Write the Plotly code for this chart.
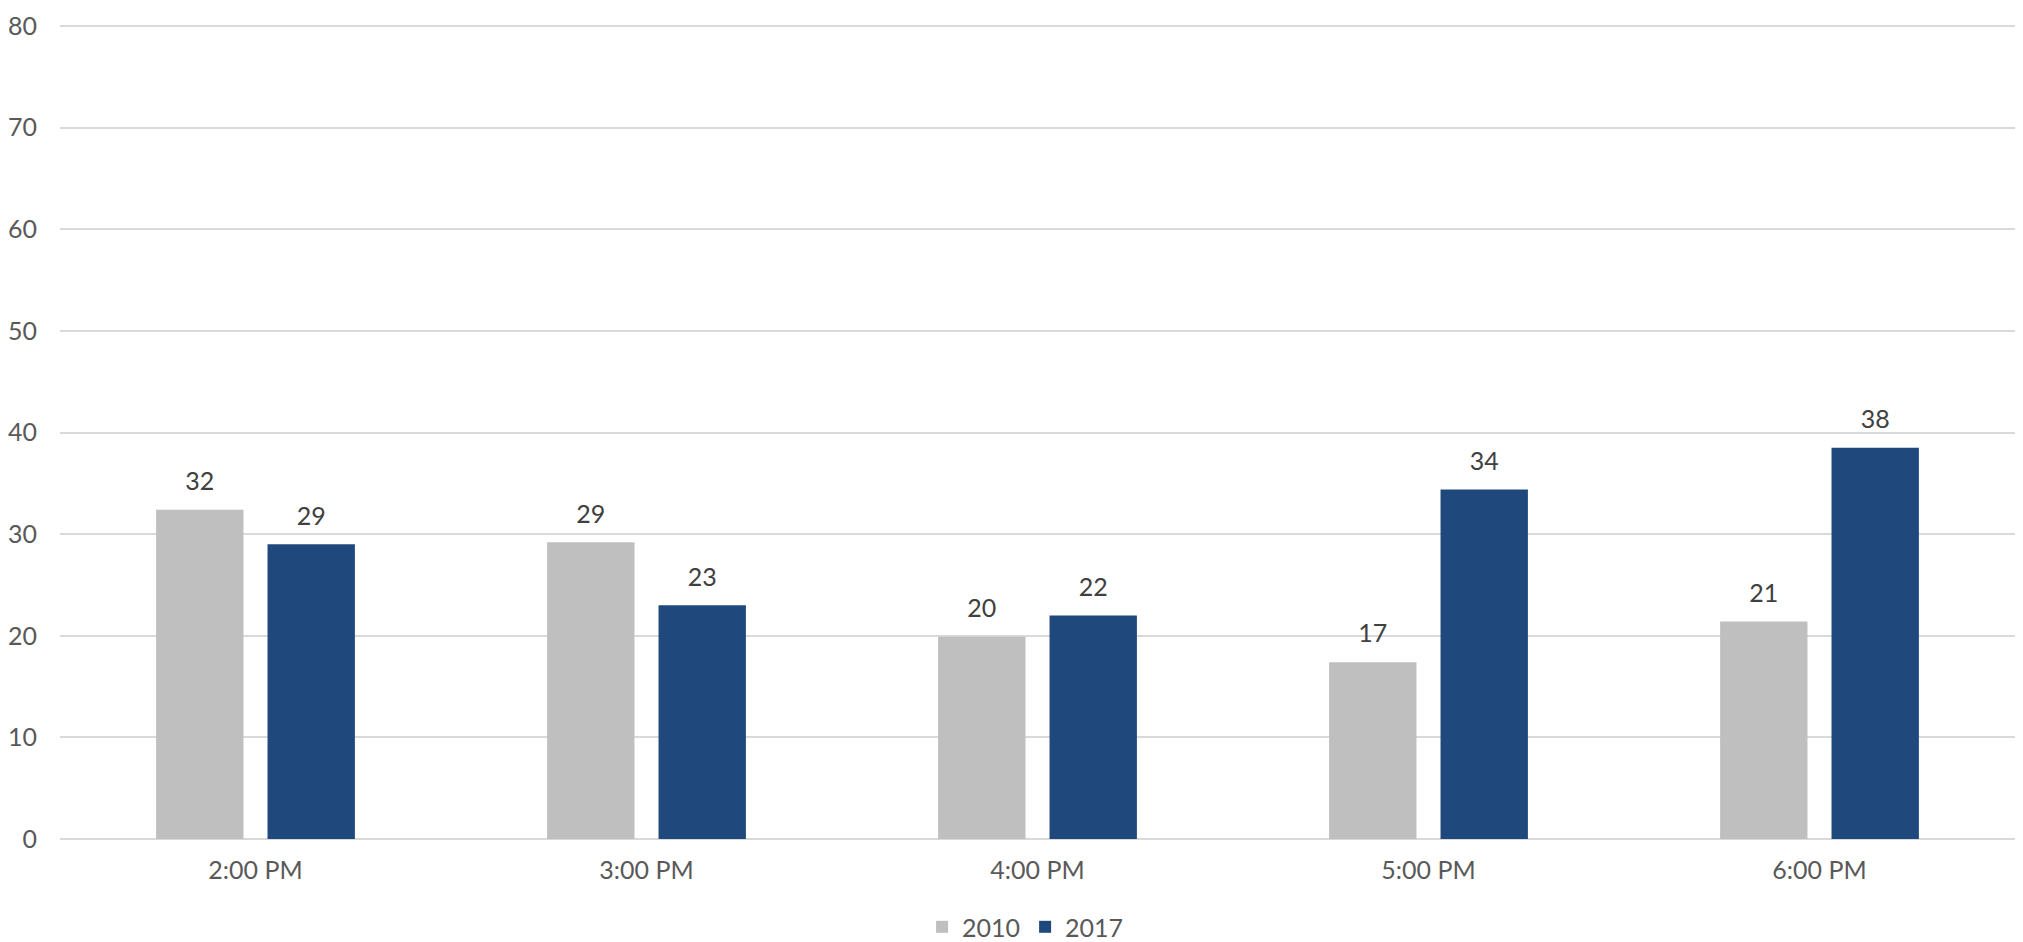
import plotly.graph_objects as go

categories = ["2:00 PM", "3:00 PM", "4:00 PM", "5:00 PM", "6:00 PM"]
values_2010 = [32.4, 29.2, 19.9, 17.4, 21.4]
values_2017 = [29.0, 23.0, 22.0, 34.4, 38.5]
labels_2010 = ["32", "29", "20", "17", "21"]
labels_2017 = ["29", "23", "22", "34", "38"]
y_ticks = [0, 10, 20, 30, 40, 50, 60, 70, 80]

FONT = "Lato"
SIZE = 25

fig = go.Figure()
for name, vals, col, grp in [("2010", values_2010, "#bfbfbf", "a"),
                             ("2017", values_2017, "#1f497d", "b")]:
    fig.add_trace(go.Bar(
        name=name, x=categories, y=vals, offsetgroup=grp,
        marker=dict(color=col, line=dict(width=0)),
    ))
for vals, labs, grp in [(values_2010, labels_2010, "a"),
                        (values_2017, labels_2017, "b")]:
    fig.add_trace(go.Scatter(
        x=categories, y=vals, text=labs, offsetgroup=grp,
        mode="markers+text", textposition="top center", cliponaxis=False,
        marker=dict(size=20, opacity=0), showlegend=False, hoverinfo="skip",
        textfont=dict(family=FONT, size=SIZE, color="#404040"),
    ))

fig.update_layout(
    width=2015, height=934,
    paper_bgcolor="white", plot_bgcolor="white",
    margin=dict(l=52, r=8, t=13, b=103, autoexpand=False),
    barmode="group", bargap=0.43, bargroupgap=0.216,
    scattermode="group", scattergap=0.43,
    font=dict(family=FONT, size=SIZE, color="#595959"),
    showlegend=True,
    legend=dict(orientation="h", x=0.505, xanchor="center", xref="container",
                y=0.016, yanchor="middle", yref="container",
                font=dict(family=FONT, size=SIZE, color="#595959"),
                itemwidth=30, traceorder="normal"),
    xaxis=dict(showgrid=False, showline=False, ticks="", ticklabelstandoff=14,
               automargin=False,
               tickfont=dict(family=FONT, size=SIZE, color="#595959")),
    yaxis=dict(range=[0, 80.5], tickvals=y_ticks, showgrid=True, gridcolor="#d9d9d9",
               gridwidth=1.5, zeroline=True, zerolinecolor="#d9d9d9", zerolinewidth=1.5,
               showline=False, ticks="", ticklabelstandoff=22, automargin=False,
               ticklabeloverflow="allow",
               tickfont=dict(family=FONT, size=SIZE, color="#595959")),
)

fig.write_html("out.html")
